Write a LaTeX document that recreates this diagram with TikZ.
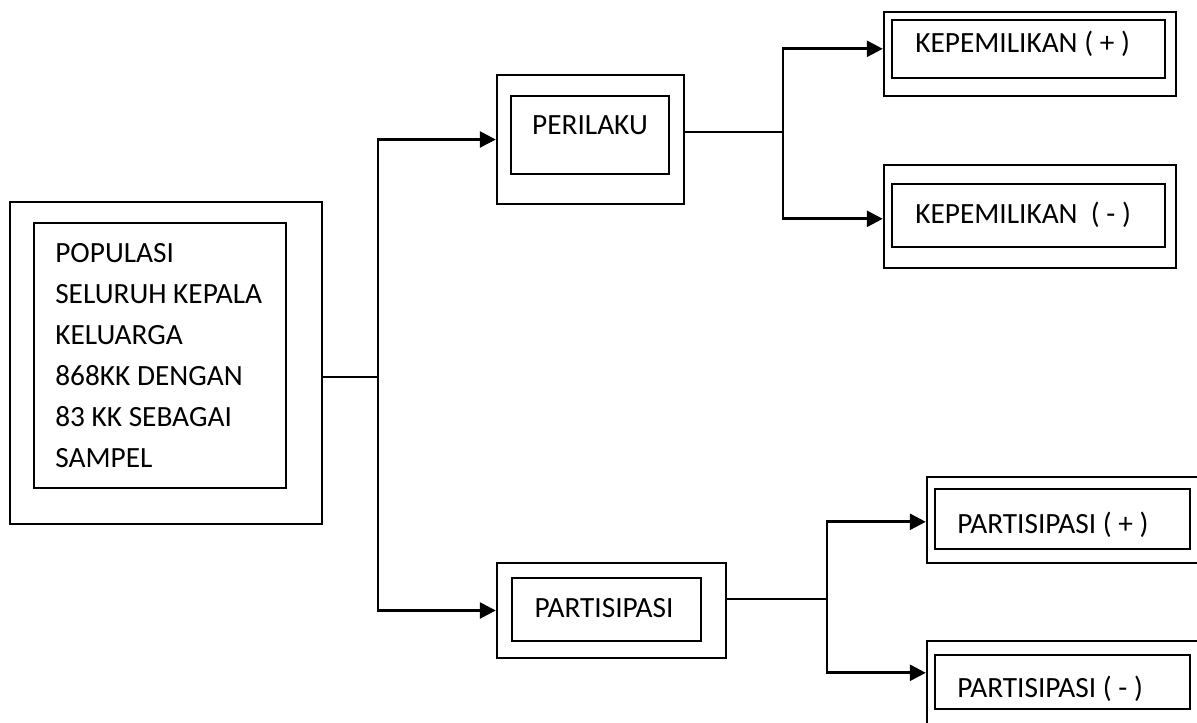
\documentclass[tikz,border=0pt]{standalone}
\usepackage{fontspec}
\setmainfont{Carlito}
\usetikzlibrary{fit,calc,arrows.meta}
\begin{document}
\begin{tikzpicture}[x=0.75pt,y=-0.75pt,
  boxo/.style={draw,line width=1.8pt,inner sep=0pt},
  boxi/.style={draw,line width=1.7pt,inner sep=0pt},
  txt/.style={anchor=base west,inner sep=0pt,font=\fontsize{22}{26}\selectfont},
  txtc/.style={anchor=base,inner sep=0pt,font=\fontsize{22}{26}\selectfont},
  ln/.style={line width=2pt},
  arr/.style={line width=2pt,-{Triangle[length=12pt,width=12pt]}}]
\clip (0,0) rectangle (1197,722);
% main box
\node[boxo,fit={(10,202) (322,524)}] (MO) {};
\node[boxi,fit={(34,223) (286,488)}] (MI) {};
\foreach \t [count=\i] in {POPULASI,SELURUH KEPALA,KELUARGA,868KK DENGAN,83 KK SEBAGAI,SAMPEL}
  \node[txt] (m\i) at (55,{262+41*(\i-1)}) {\t};
% PERILAKU
\node[boxo,fit={(497,75) (684,204)}] (PO) {};
\node[boxi,fit={(511,96) (669,174)}] (PI) {};
\node[txtc] (pt) at (590,134) {PERILAKU};
% PARTISIPASI
\node[boxo,fit={(497,563) (726,658)}] (SO) {};
\node[boxi,fit={(512,578) (701,641)}] (SI) {};
\node[txtc] (st) at (604,617) {PARTISIPASI};
% KEPEMILIKAN +
\node[boxo,fit={(884,12) (1176,96)}] (KPO) {};
\node[boxi,fit={(892,20) (1165,78)}] (KPI) {};
\node[txt] (kpt) at (915,52) {KEPEMILIKAN ( + )};
% KEPEMILIKAN -
\node[boxo,fit={(884,165) (1176,268)}] (KMO) {};
\node[boxi,fit={(892,184) (1165,247)}] (KMI) {};
\node[txt] (kmt) at (915,223) {KEPEMILIKAN \ ( - )};
% PARTISIPASI +
\node[boxo,fit={(927,477) (1210,563)}] (PPO) {};
\node[boxi,fit={(935,489) (1190,549)}] (PPI) {};
\node[txt] (ppt) at (957,533) {PARTISIPASI ( + )};
% PARTISIPASI -
\node[boxo,fit={(927,641) (1210,750)}] (PMO) {};
\node[boxi,fit={(935,655) (1190,709)}] (PMI) {};
\node[txt] (pmt) at (957,697) {PARTISIPASI ( - )};
% connectors
\coordinate (j1) at (378,377);
\draw[ln] (j1 -| MO.east) -- (j1);
\draw[arr] (j1) |- (PO.west);
\draw[arr] (j1) |- (SO.west);
\coordinate (j2) at (783,132);
\draw[ln] (j2 -| PO.east) -- (j2);
\draw[arr] (j2) |- ($(KPO.north west)+(0,38)$);
\draw[arr] (j2) |- ($(KMO.north west)+(0,55)$);
\coordinate (j3) at (827,599);
\draw[ln] (j3 -| SO.east) -- (j3);
\draw[arr] (j3) |- ($(PPO.north west)+(0,46)$);
\draw[arr] (j3) |- ($(PMO.north west)+(0,33)$);
\end{tikzpicture}
\end{document}
